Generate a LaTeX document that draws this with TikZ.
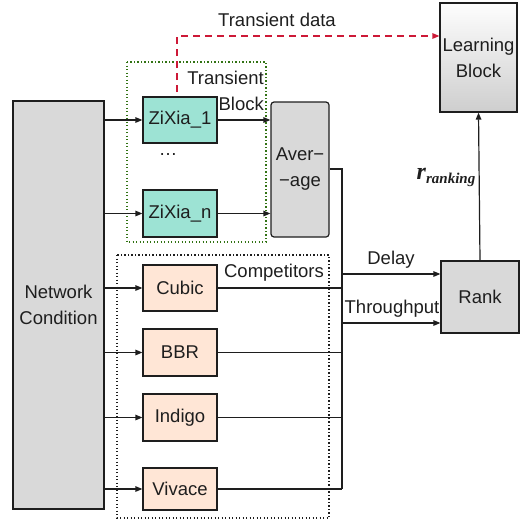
\documentclass[tikz,border=0pt]{standalone}
\usepackage{fontspec}
\setmainfont{Liberation Sans}
\newfontfamily\serifbi{Liberation Serif}
\usetikzlibrary{arrows.meta}
\definecolor{teal1}{RGB}{157,227,212}
\definecolor{peach}{RGB}{255,230,214}
\definecolor{gray1}{RGB}{217,217,217}
\definecolor{dgreen}{RGB}{50,115,20}
\definecolor{dred}{RGB}{205,25,55}
\definecolor{ink}{RGB}{30,30,30}
\begin{document}
\begin{tikzpicture}[x=1pt,y=-1pt,
  every node/.style={font=\fontsize{18.5}{26}\selectfont, text=ink},
  blk/.style={draw=ink, line width=1.2pt, inner sep=0pt, align=center},
  zbox/.style={blk, fill=teal1, minimum width=74pt},
  cbox/.style={blk, fill=peach, minimum width=74pt},
  arr/.style={draw=ink, line width=1.2pt, -{Triangle[length=7pt,width=5.5pt]}},
  ln/.style={draw=ink, line width=1.2pt},
  lbl/.style={inner sep=0pt},
  frame/.style={line width=1.2pt, dash pattern=on 1.3pt off 2.2pt}
]
\useasboundingbox (0,0) rectangle (521,519);
% group frames
\draw[dgreen, frame] (127,62) rectangle (266,242);
\draw[ink, frame] (117,255) rectangle (329,518);
% nodes
\node[blk, fill=gray1, minimum width=91pt, minimum height=408pt] (net) at (58.5,305) {Network\\Condition};
\node[zbox, minimum height=46pt] (z1) at (180,120) {ZiXia\_1};
\node[zbox, minimum height=47pt] (zn) at (180,213.5) {ZiXia\_n};
\node[lbl] (dots) at (168,155) {\ldots};
\node[blk, fill=gray1, rounded corners=3pt, minimum width=58pt, minimum height=135pt] (avg) at (300,169.5) {Aver−\\−age};
\node[cbox, minimum height=46pt] (cubic) at (180,288) {Cubic};
\node[cbox, minimum height=47pt] (bbr) at (180,352.5) {BBR};
\node[cbox, minimum height=47pt] (indigo) at (180,417.5) {Indigo};
\node[cbox, minimum height=42pt] (vivace) at (180,489) {Vivace};
\node[blk, fill=gray1, minimum width=78pt, minimum height=72pt] (rank) at (480,297) {Rank};
\node[blk, top color=white!96!gray1, bottom color=gray1!95!black, minimum width=77pt, minimum height=109pt] (learn) at (478.5,57.5) {Learning\\Block};
% labels
\node[lbl] (tdata) at (277,20) {Transient data};
\node[lbl, align=right, anchor=east] (tblock) at (264,91) {Transient\\Block};
\node[lbl] (comp) at (274,273) {Competitors};
\node[lbl] (delay) at (391,260) {Delay};
\node[lbl] (thr) at (392,309) {Throughput};
\node[lbl] (rr) at (446,177) {\serifbi\bfseries\itshape\fontsize{24}{24}\selectfont r\raisebox{-4pt}{\fontsize{15}{15}\selectfont ranking}};
% coordinates
\coordinate (bustop) at (342,169);
\coordinate (busbot) at (342,489);
\coordinate (dly) at (342,274);
\coordinate (thp) at (342,323);
\coordinate (tstart) at (177,92);
\coordinate (tcorner) at (177,36);
% network arrows
\foreach \n in {z1,zn,cubic,bbr,indigo,vivace}
  \draw[arr] (net.east |- \n.west) -- (\n.west);
% zixia to average
\draw[arr] (z1.east) -- (avg.west |- z1.east);
\draw[arr] (zn.east) -- (avg.west |- zn.east);
% bus
\draw[ln] (avg.east |- bustop) -- (bustop) -- (busbot);
\foreach \n in {cubic,bbr,indigo,vivace}
  \draw[ln] (\n.east) -- (bustop |- \n.east);
\draw[arr] (dly) -- (rank.west |- dly);
\draw[arr] (thp) -- (rank.west |- thp);
% rank to learning
\draw[arr] (rank.north) -- (learn.south);
% transient data
\draw[dred, line width=1.3pt, dash pattern=on 7pt off 5pt, -{Triangle[length=7pt,width=5.5pt]}] (tstart) -- (tcorner) -- (learn.west |- tcorner);
\end{tikzpicture}
\end{document}
